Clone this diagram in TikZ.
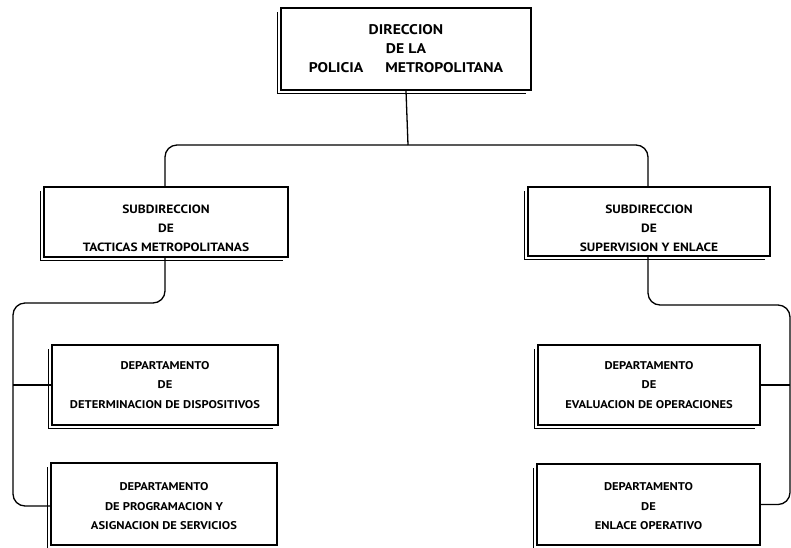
\documentclass[tikz,border=0pt]{standalone}
\usepackage{fontspec}
\setmainfont{PT Sans}[FakeStretch=1.12]
\begin{document}
\begin{tikzpicture}[x=1pt,y=-1pt,
  box/.style={draw,line width=1.4pt,rectangle,inner sep=0pt,align=center},
  txt/.style={inner sep=0pt,align=center},
  topfont/.style={font=\bfseries\fontsize{14}{19}\selectfont},
  subfont/.style={font=\bfseries\fontsize{12}{19}\selectfont},
  depfont/.style={font=\bfseries\fontsize{11.2}{19.5}\selectfont},
  conn/.style={line width=1.3pt,rounded corners=12pt},
  shadowline/.style={line width=1pt}]
\useasboundingbox[fill=white] (0,0) rectangle (791,547);

\node[box,topfont,minimum width=250pt,minimum height=82pt] (top) at (406,49)
  {DIRECCION\\DE LA\\POLICIA\hspace{22pt}METROPOLITANA};
\node[box,minimum width=244pt,minimum height=70pt] (lsub) at (166,222) {};
\node[txt,subfont] (lsubtext) at (166,228)
  {SUBDIRECCION\\DE\\TACTICAS METROPOLITANAS};
\node[box,minimum width=242pt,minimum height=69pt] (rsub) at (649,221.5) {};
\node[txt,subfont] (rsubtext) at (649,228)
  {SUBDIRECCION\\DE\\SUPERVISION Y ENLACE};
\node[box,depfont,minimum width=226pt,minimum height=80pt] (ld1) at (165,385)
  {DEPARTAMENTO\\DE\\DETERMINACION DE DISPOSITIVOS};
\node[box,minimum width=226pt,minimum height=82pt] (ld2) at (164,504) {};
\node[txt,depfont] (ld2text) at (164,506.5)
  {DEPARTAMENTO\\DE PROGRAMACION Y\\ASIGNACION DE SERVICIOS};
\node[box,depfont,minimum width=222pt,minimum height=80pt] (rd1) at (649,385)
  {DEPARTAMENTO\\DE\\EVALUACION DE OPERACIONES};
\node[box,minimum width=223pt,minimum height=81pt] (rd2) at (648.5,504.5) {};
\node[txt,depfont] (rd2text) at (648.5,506.5)
  {DEPARTAMENTO\\DE\\ENLACE OPERATIVO};

\foreach \n in {top,lsub,rsub,ld1,ld2,rd1,rd2}{
  \draw[shadowline] ([xshift=-3pt,yshift=-5pt]\n.north west) |- ([xshift=-6pt,yshift=-3pt]\n.south east);
}

\coordinate (hub) at (408,145);
\coordinate (ltop) at (13,303);
\coordinate (rtop) at (790,305);

\draw[conn] (top.south) -- (hub);
\draw[conn] (lsub.north -| 165,0) |- (hub) -| (rsub.north -| 648,0);
\draw[conn] (lsub.south -| 165,0) |- (ltop) |- ([yshift=-2pt]ld2.west);
\draw[conn] (ld1.west) -- (ld1.west -| ltop);
\draw[conn] (rsub.south -| 648,0) |- (rtop) |- (rd2.east);
\draw[conn] (rd1.east) -- (rd1.east -| rtop);
\end{tikzpicture}
\end{document}
